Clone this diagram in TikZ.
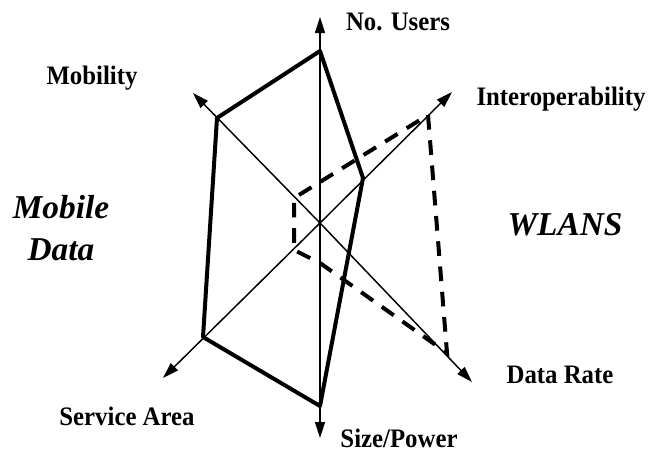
\documentclass[tikz,border=0pt]{standalone}
\usepackage{fontspec}
\setmainfont{Liberation Serif}
\newfontfamily\axisfont[FakeStretch=0.93]{Liberation Serif}
\usetikzlibrary{arrows.meta}

\tikzstyle{axis} = [line width=1.1pt,
    -{Triangle[length=12pt,width=7.5pt]}]
\tikzstyle{mobile} = [line width=3pt,
    line join=round]
\tikzstyle{wlan} = [line width=3pt,
    dash pattern=on 11pt off 8pt]
\tikzstyle{label} = [font=\axisfont\bfseries\fontsize{20}{24}\selectfont,
    inner sep=0pt,
    anchor=base]
\tikzstyle{tech} = [font=\bfseries\itshape\fontsize{25}{31.5}\selectfont,
    align=center,
    inner sep=0pt]

\begin{document}
\begin{tikzpicture}[x=0.75pt,y=-0.75pt]
            \useasboundingbox (0,0) rectangle (652,451);
            % axes
            \coordinate (o) at (320,223);
            \coordinate (users) at (320,17);
            \coordinate (size) at (320,438);
            \coordinate (mobility) at (193,93);
            \coordinate (rate) at (472,382);
            \coordinate (interop) at (452,92);
            \coordinate (area) at (163,378);
            \foreach \ax in {users,size,mobility,rate,interop,area}
                \draw [axis] (o) -- (\ax);
            % mobile data
            \coordinate (m1) at (320,51);
            \coordinate (m2) at (363,178);
            \coordinate (m3) at (320,406);
            \coordinate (m4) at (203,337);
            \coordinate (m5) at (217,118);
            \draw [mobile] (m1) -- (m2) -- (m3) -- (m4) -- (m5) -- cycle;
            % wlans
            \coordinate (w1) at (428,115);
            \coordinate (w2) at (447,353);
            \coordinate (w3) at (320,263);
            \coordinate (w4) at (294,250);
            \coordinate (w5) at (294,198);
            \coordinate (w6) at (320,182);
            \draw [wlan] (w1) -- (w2) -- (w3) -- (w4) -- (w5) -- (w6) -- cycle;
            % labels
            \node (lusers) [label] at (398,30) {No. Users};
            \node (lmobility) [label] at (92,84) {Mobility};
            \node (linterop) [label] at (561,105) {Interoperability};
            \node (lrate) [label] at (560,383) {Data Rate};
            \node (larea) [label] at (127,425) {Service Area};
            \node (lsize) [label] at (399,447) {Size/Power};
            \node (lmobile) [tech] at (61,228) {Mobile\\Data};
            \node (lwlan) [tech,anchor=base] at (565,235) {WLANS};
        \end{tikzpicture}
\end{document}
